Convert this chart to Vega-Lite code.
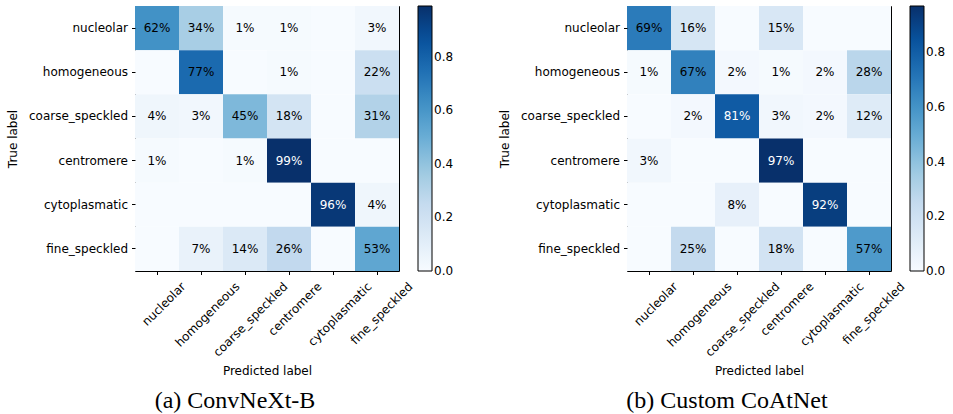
{
  "$schema": "https://vega.github.io/schema/vega-lite/v6.json",
  "padding": {"left": 6, "top": 5, "right": 0, "bottom": 0},
  "background": "white",
  "spacing": 43,
  "datasets": {
    "a": [
      {"t": "nucleolar", "p": "nucleolar", "v": 0.62},
      {"t": "nucleolar", "p": "homogeneous", "v": 0.34},
      {"t": "nucleolar", "p": "coarse_speckled", "v": 0.01},
      {"t": "nucleolar", "p": "centromere", "v": 0.01},
      {"t": "nucleolar", "p": "cytoplasmatic", "v": 0},
      {"t": "nucleolar", "p": "fine_speckled", "v": 0.03},
      {"t": "homogeneous", "p": "nucleolar", "v": 0},
      {"t": "homogeneous", "p": "homogeneous", "v": 0.77},
      {"t": "homogeneous", "p": "coarse_speckled", "v": 0},
      {"t": "homogeneous", "p": "centromere", "v": 0.01},
      {"t": "homogeneous", "p": "cytoplasmatic", "v": 0},
      {"t": "homogeneous", "p": "fine_speckled", "v": 0.22},
      {"t": "coarse_speckled", "p": "nucleolar", "v": 0.04},
      {"t": "coarse_speckled", "p": "homogeneous", "v": 0.03},
      {"t": "coarse_speckled", "p": "coarse_speckled", "v": 0.45},
      {"t": "coarse_speckled", "p": "centromere", "v": 0.18},
      {"t": "coarse_speckled", "p": "cytoplasmatic", "v": 0},
      {"t": "coarse_speckled", "p": "fine_speckled", "v": 0.31},
      {"t": "centromere", "p": "nucleolar", "v": 0.01},
      {"t": "centromere", "p": "homogeneous", "v": 0},
      {"t": "centromere", "p": "coarse_speckled", "v": 0.01},
      {"t": "centromere", "p": "centromere", "v": 0.99},
      {"t": "centromere", "p": "cytoplasmatic", "v": 0},
      {"t": "centromere", "p": "fine_speckled", "v": 0},
      {"t": "cytoplasmatic", "p": "nucleolar", "v": 0},
      {"t": "cytoplasmatic", "p": "homogeneous", "v": 0},
      {"t": "cytoplasmatic", "p": "coarse_speckled", "v": 0},
      {"t": "cytoplasmatic", "p": "centromere", "v": 0},
      {"t": "cytoplasmatic", "p": "cytoplasmatic", "v": 0.96},
      {"t": "cytoplasmatic", "p": "fine_speckled", "v": 0.04},
      {"t": "fine_speckled", "p": "nucleolar", "v": 0},
      {"t": "fine_speckled", "p": "homogeneous", "v": 0.07},
      {"t": "fine_speckled", "p": "coarse_speckled", "v": 0.14},
      {"t": "fine_speckled", "p": "centromere", "v": 0.26},
      {"t": "fine_speckled", "p": "cytoplasmatic", "v": 0},
      {"t": "fine_speckled", "p": "fine_speckled", "v": 0.53}
    ],
    "b": [
      {"t": "nucleolar", "p": "nucleolar", "v": 0.69},
      {"t": "nucleolar", "p": "homogeneous", "v": 0.16},
      {"t": "nucleolar", "p": "coarse_speckled", "v": 0},
      {"t": "nucleolar", "p": "centromere", "v": 0.15},
      {"t": "nucleolar", "p": "cytoplasmatic", "v": 0},
      {"t": "nucleolar", "p": "fine_speckled", "v": 0},
      {"t": "homogeneous", "p": "nucleolar", "v": 0.01},
      {"t": "homogeneous", "p": "homogeneous", "v": 0.67},
      {"t": "homogeneous", "p": "coarse_speckled", "v": 0.02},
      {"t": "homogeneous", "p": "centromere", "v": 0.01},
      {"t": "homogeneous", "p": "cytoplasmatic", "v": 0.02},
      {"t": "homogeneous", "p": "fine_speckled", "v": 0.28},
      {"t": "coarse_speckled", "p": "nucleolar", "v": 0},
      {"t": "coarse_speckled", "p": "homogeneous", "v": 0.02},
      {"t": "coarse_speckled", "p": "coarse_speckled", "v": 0.81},
      {"t": "coarse_speckled", "p": "centromere", "v": 0.03},
      {"t": "coarse_speckled", "p": "cytoplasmatic", "v": 0.02},
      {"t": "coarse_speckled", "p": "fine_speckled", "v": 0.12},
      {"t": "centromere", "p": "nucleolar", "v": 0.03},
      {"t": "centromere", "p": "homogeneous", "v": 0},
      {"t": "centromere", "p": "coarse_speckled", "v": 0},
      {"t": "centromere", "p": "centromere", "v": 0.97},
      {"t": "centromere", "p": "cytoplasmatic", "v": 0},
      {"t": "centromere", "p": "fine_speckled", "v": 0},
      {"t": "cytoplasmatic", "p": "nucleolar", "v": 0},
      {"t": "cytoplasmatic", "p": "homogeneous", "v": 0},
      {"t": "cytoplasmatic", "p": "coarse_speckled", "v": 0.08},
      {"t": "cytoplasmatic", "p": "centromere", "v": 0},
      {"t": "cytoplasmatic", "p": "cytoplasmatic", "v": 0.92},
      {"t": "cytoplasmatic", "p": "fine_speckled", "v": 0},
      {"t": "fine_speckled", "p": "nucleolar", "v": 0},
      {"t": "fine_speckled", "p": "homogeneous", "v": 0.25},
      {"t": "fine_speckled", "p": "coarse_speckled", "v": 0},
      {"t": "fine_speckled", "p": "centromere", "v": 0.18},
      {"t": "fine_speckled", "p": "cytoplasmatic", "v": 0},
      {"t": "fine_speckled", "p": "fine_speckled", "v": 0.57}
    ]
  },
  "hconcat": [
    {
      "width": 264,
      "height": 265,
      "data": {"name": "a"},
      "title": {"text": "(a) ConvNeXt-B", "orient": "bottom", "anchor": "middle", "frame": "group", "dx": -32, "offset": 13, "font": "Liberation Serif", "fontSize": 24, "fontWeight": "normal", "color": "black"},
      "encoding": {
        "x": {"field": "p", "type": "nominal", "sort": ["nucleolar", "homogeneous", "coarse_speckled", "centromere", "cytoplasmatic", "fine_speckled"], "title": "Predicted label", "scale": {"paddingInner": 0, "paddingOuter": 0},
          "axis": {"labelOffset": {"condition": [
            {"test": "datum.value === 'nucleolar'", "value": 23},
            {"test": "datum.value === 'homogeneous'", "value": 33},
            {"test": "datum.value === 'coarse_speckled'", "value": 37},
            {"test": "datum.value === 'centromere'", "value": 27},
            {"test": "datum.value === 'cytoplasmatic'", "value": 33}
          ], "value": 30}}},
        "y": {"field": "t", "type": "nominal", "sort": ["nucleolar", "homogeneous", "coarse_speckled", "centromere", "cytoplasmatic", "fine_speckled"], "title": "True label", "scale": {"paddingInner": 0, "paddingOuter": 0}}
      },
      "layer": [
        {
          "mark": {"type": "rect"},
          "encoding": {
            "color": {"field": "v", "type": "quantitative",
              "scale": {"domain": [0, 0.12375, 0.2475, 0.37125, 0.495, 0.61875, 0.7425, 0.86625, 0.99], "range": ["#f7fbff", "#deebf7", "#c6dbef", "#9ecae1", "#6baed6", "#4292c6", "#2171b5", "#08519c", "#08306b"], "interpolate": "rgb"},
              "legend": {"values": [0, 0.2, 0.4, 0.6, 0.8], "encode": {"labels": {"update": {"baseline": {"value": "middle"}}}}}}
          }
        },
        {
          "transform": [{"filter": "datum.v > 0"}],
          "mark": {"type": "text", "font": "DejaVu Sans", "fontSize": 12},
          "encoding": {
            "text": {"field": "v", "type": "quantitative", "format": ".0%"},
            "color": {"condition": {"test": "datum.v > 0.79", "value": "white"}, "value": "black"}
          }
        }
      ]
    },
    {
      "width": 264,
      "height": 265,
      "data": {"name": "b"},
      "title": {"text": "(b) Custom CoAtNet", "orient": "bottom", "anchor": "middle", "frame": "group", "dx": -32, "offset": 13, "font": "Liberation Serif", "fontSize": 24, "fontWeight": "normal", "color": "black"},
      "encoding": {
        "x": {"field": "p", "type": "nominal", "sort": ["nucleolar", "homogeneous", "coarse_speckled", "centromere", "cytoplasmatic", "fine_speckled"], "title": "Predicted label", "scale": {"paddingInner": 0, "paddingOuter": 0},
          "axis": {"labelOffset": {"condition": [
            {"test": "datum.value === 'nucleolar'", "value": 23},
            {"test": "datum.value === 'homogeneous'", "value": 33},
            {"test": "datum.value === 'coarse_speckled'", "value": 37},
            {"test": "datum.value === 'centromere'", "value": 27},
            {"test": "datum.value === 'cytoplasmatic'", "value": 33}
          ], "value": 30}}},
        "y": {"field": "t", "type": "nominal", "sort": ["nucleolar", "homogeneous", "coarse_speckled", "centromere", "cytoplasmatic", "fine_speckled"], "title": "True label", "scale": {"paddingInner": 0, "paddingOuter": 0}}
      },
      "layer": [
        {
          "mark": {"type": "rect"},
          "encoding": {
            "color": {"field": "v", "type": "quantitative",
              "scale": {"domain": [0, 0.12125, 0.2425, 0.36375, 0.485, 0.60625, 0.7275, 0.84875, 0.97], "range": ["#f7fbff", "#deebf7", "#c6dbef", "#9ecae1", "#6baed6", "#4292c6", "#2171b5", "#08519c", "#08306b"], "interpolate": "rgb"},
              "legend": {"values": [0, 0.2, 0.4, 0.6, 0.8], "encode": {"labels": {"update": {"baseline": {"value": "middle"}}}}}}
          }
        },
        {
          "transform": [{"filter": "datum.v > 0"}],
          "mark": {"type": "text", "font": "DejaVu Sans", "fontSize": 12},
          "encoding": {
            "text": {"field": "v", "type": "quantitative", "format": ".0%"},
            "color": {"condition": {"test": "datum.v > 0.79", "value": "white"}, "value": "black"}
          }
        }
      ]
    }
  ],
  "resolve": {"scale": {"color": "independent"}, "legend": {"color": "independent"}},
  "config": {
    "view": {"stroke": "black", "strokeWidth": 1},
    "font": "DejaVu Sans",
    "axis": {
      "domain": false,
      "grid": false,
      "ticks": true,
      "tickColor": "black",
      "tickSize": 3.5,
      "tickWidth": 1,
      "labelFont": "DejaVu Sans",
      "labelFontSize": 12,
      "labelColor": "black",
      "titleFont": "DejaVu Sans",
      "titleFontSize": 12,
      "titleFontWeight": "normal",
      "titleColor": "black"
    },
    "axisX": {"labelAngle": -45, "labelAlign": "right", "labelBaseline": "top", "labelPadding": 6, "titlePadding": 7, "labelOverlap": false},
    "axisY": {"labelPadding": 4, "titlePadding": 9},
    "legend": {
      "orient": "right",
      "offset": 19,
      "padding": 0,
      "title": null,
      "direction": "vertical",
      "gradientLength": 265,
      "gradientThickness": 14,
      "gradientStrokeColor": "black",
      "gradientStrokeWidth": 1,
      "labelFont": "DejaVu Sans",
      "labelFontSize": 12,
      "labelColor": "black",
      "labelOffset": 8,
      "format": ".1f",
      "labelOverlap": false
    }
  }
}
